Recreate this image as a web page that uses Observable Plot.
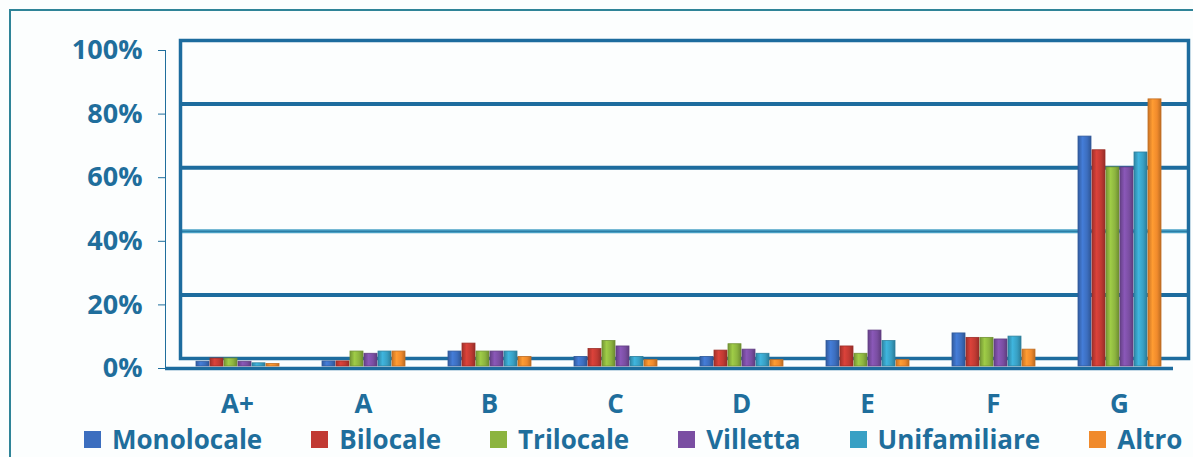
<!DOCTYPE html>
<html>
<head>
<meta charset="utf-8">
<script src="https://cdn.jsdelivr.net/npm/d3@7"></script>
<script src="https://cdn.jsdelivr.net/npm/@observablehq/plot@0.6"></script>
<style>
  html, body { margin: 0; padding: 0; background: #fcfefe; }
  #wrap { position: relative; width: 1193px; height: 457px; overflow: hidden; background: #fcfefe; }
  #border { position: absolute; left: 9px; top: 9px; width: 1200px; height: 470px; border: 2px solid #2f8498; box-sizing: border-box; }
  #back, #bars { position: absolute; left: 0; top: 0; }
  #legend { position: absolute; left: 84px; top: 426px; display: flex; align-items: center; gap: 49px; line-height: 26px;
    font-family: "Open Sans", sans-serif; font-weight: 700; font-size: 26px; color: #1f6e9c; white-space: nowrap; }
  #legend .item { display: flex; align-items: center; }
  #legend .sw { width: 17px; height: 17px; margin-right: 11px; display: inline-block; }
</style>
</head>
<body>
<div id="wrap">
  <div id="border"></div>
  <div id="back"></div>
  <div id="bars"></div>
  <div id="legend"></div>
</div>
<script>
// ---- data ----
const categories = ["A+", "A", "B", "C", "D", "E", "F", "G"];
const series = ["Monolocale", "Bilocale", "Trilocale", "Villetta", "Unifamiliare", "Altro"];
const monolocale   = [1.5, 1.6, 4.7, 3.0, 3.0, 8.0, 10.4, 72.3];
const bilocale     = [2.5, 1.6, 7.2, 5.5, 5.0, 6.3, 9.0, 68.0];
const trilocale    = [2.5, 4.7, 4.7, 8.0, 7.0, 4.0, 9.0, 62.6];
const villetta     = [1.5, 4.0, 4.7, 6.3, 5.3, 11.3, 8.5, 62.6];
const unifamiliare = [1.0, 4.7, 4.7, 3.0, 4.0, 8.0, 9.4, 67.3];
const altro        = [0.8, 4.7, 3.0, 2.0, 2.0, 2.0, 5.3, 84.0];
const yTicks = [0, 20, 40, 60, 80, 100];
const colors = ["#3c6ebf", "#c13a33", "#8cb43f", "#7a4ea2", "#38a0c4", "#f08a2c"];

const values = [monolocale, bilocale, trilocale, villetta, unifamiliare, altro];
const rows = [];
categories.forEach((c, i) => series.forEach((s, j) => rows.push({cat: c, series: s, value: values[j][i]})));

const W = 1193, H = 425;
const axisColor = "#1d6c9e";
const font = {fontFamily: "'Open Sans', sans-serif", fontWeight: 700, fontSize: "27px", color: "#1f6e9c", overflow: "visible"};

// ---- background: walls, gridlines, y axis ----
const back = Plot.plot({
  width: W, height: H,
  marginLeft: 165, marginRight: 20, marginTop: 50, marginBottom: 57,
  style: {...font, background: "transparent"},
  y: {domain: [0, 100], ticks: yTicks, tickFormat: d => d + "%", tickSize: 7, tickPadding: 16, label: null, line: true},
  marks: [
    Plot.ruleY([20, 60, 80], {stroke: axisColor, strokeWidth: 4, dx: 15, dy: -10}),
    Plot.ruleY([40], {stroke: "#4aa2c6", strokeWidth: 4, dx: 15, dy: -10}),
    Plot.ruleY([40], {stroke: "#2b7ea6", strokeWidth: 1.2, dx: 15, dy: -10}),
    Plot.frame({stroke: axisColor, strokeWidth: 3.5, dx: 15, dy: -10}),
    Plot.ruleY([0], {stroke: axisColor, strokeWidth: 3.5})
  ]
});
back.querySelectorAll("[aria-label='y-axis'] path, g[aria-label='y-axis'] line").forEach(p => {
  p.setAttribute("stroke", axisColor); p.setAttribute("stroke-width", "3.5");
});
document.getElementById("back").appendChild(back);

// ---- bars ----
const bars = Plot.plot({
  width: W, height: H,
  marginLeft: 174, marginRight: 11, marginTop: 50, marginBottom: 57,
  style: {...font, fontSize: "26px", background: "transparent"},
  facet: {data: rows, x: "cat"},
  fx: {domain: categories, paddingInner: 0.32, paddingOuter: 0.147, tickSize: 0, tickPadding: 26, label: null},
  x: {domain: series, padding: 0.1, axis: null},
  y: {domain: [0, 100], axis: null},
  marks: [
    Plot.barY(rows, {x: "series", y: "value", dy: -2,
      fill: d => "url(#grad" + series.indexOf(d.series) + ")",
      stroke: d => d3.color(colors[series.indexOf(d.series)]).darker(0.6).formatHex(), strokeWidth: 0.8})
  ]
});
const defs = d3.select(bars).insert("defs", ":first-child");
colors.forEach((c, i) => {
  const g = defs.append("linearGradient").attr("id", "grad" + i).attr("x1", "0").attr("x2", "1").attr("y1", "0").attr("y2", "0");
  g.append("stop").attr("offset", "0%").attr("stop-color", d3.color(c).darker(0.5).formatHex());
  g.append("stop").attr("offset", "35%").attr("stop-color", d3.color(c).brighter(0.35).formatHex());
  g.append("stop").attr("offset", "70%").attr("stop-color", c);
  g.append("stop").attr("offset", "100%").attr("stop-color", d3.color(c).darker(0.7).formatHex());
});
document.getElementById("bars").appendChild(bars);

// ---- legend ----
const legend = document.getElementById("legend");
series.forEach((s, i) => {
  const item = document.createElement("span");
  item.className = "item";
  item.innerHTML = `<span class="sw" style="background:${colors[i]}"></span><span>${s}</span>`;
  legend.appendChild(item);
});
</script>
</body>
</html>
